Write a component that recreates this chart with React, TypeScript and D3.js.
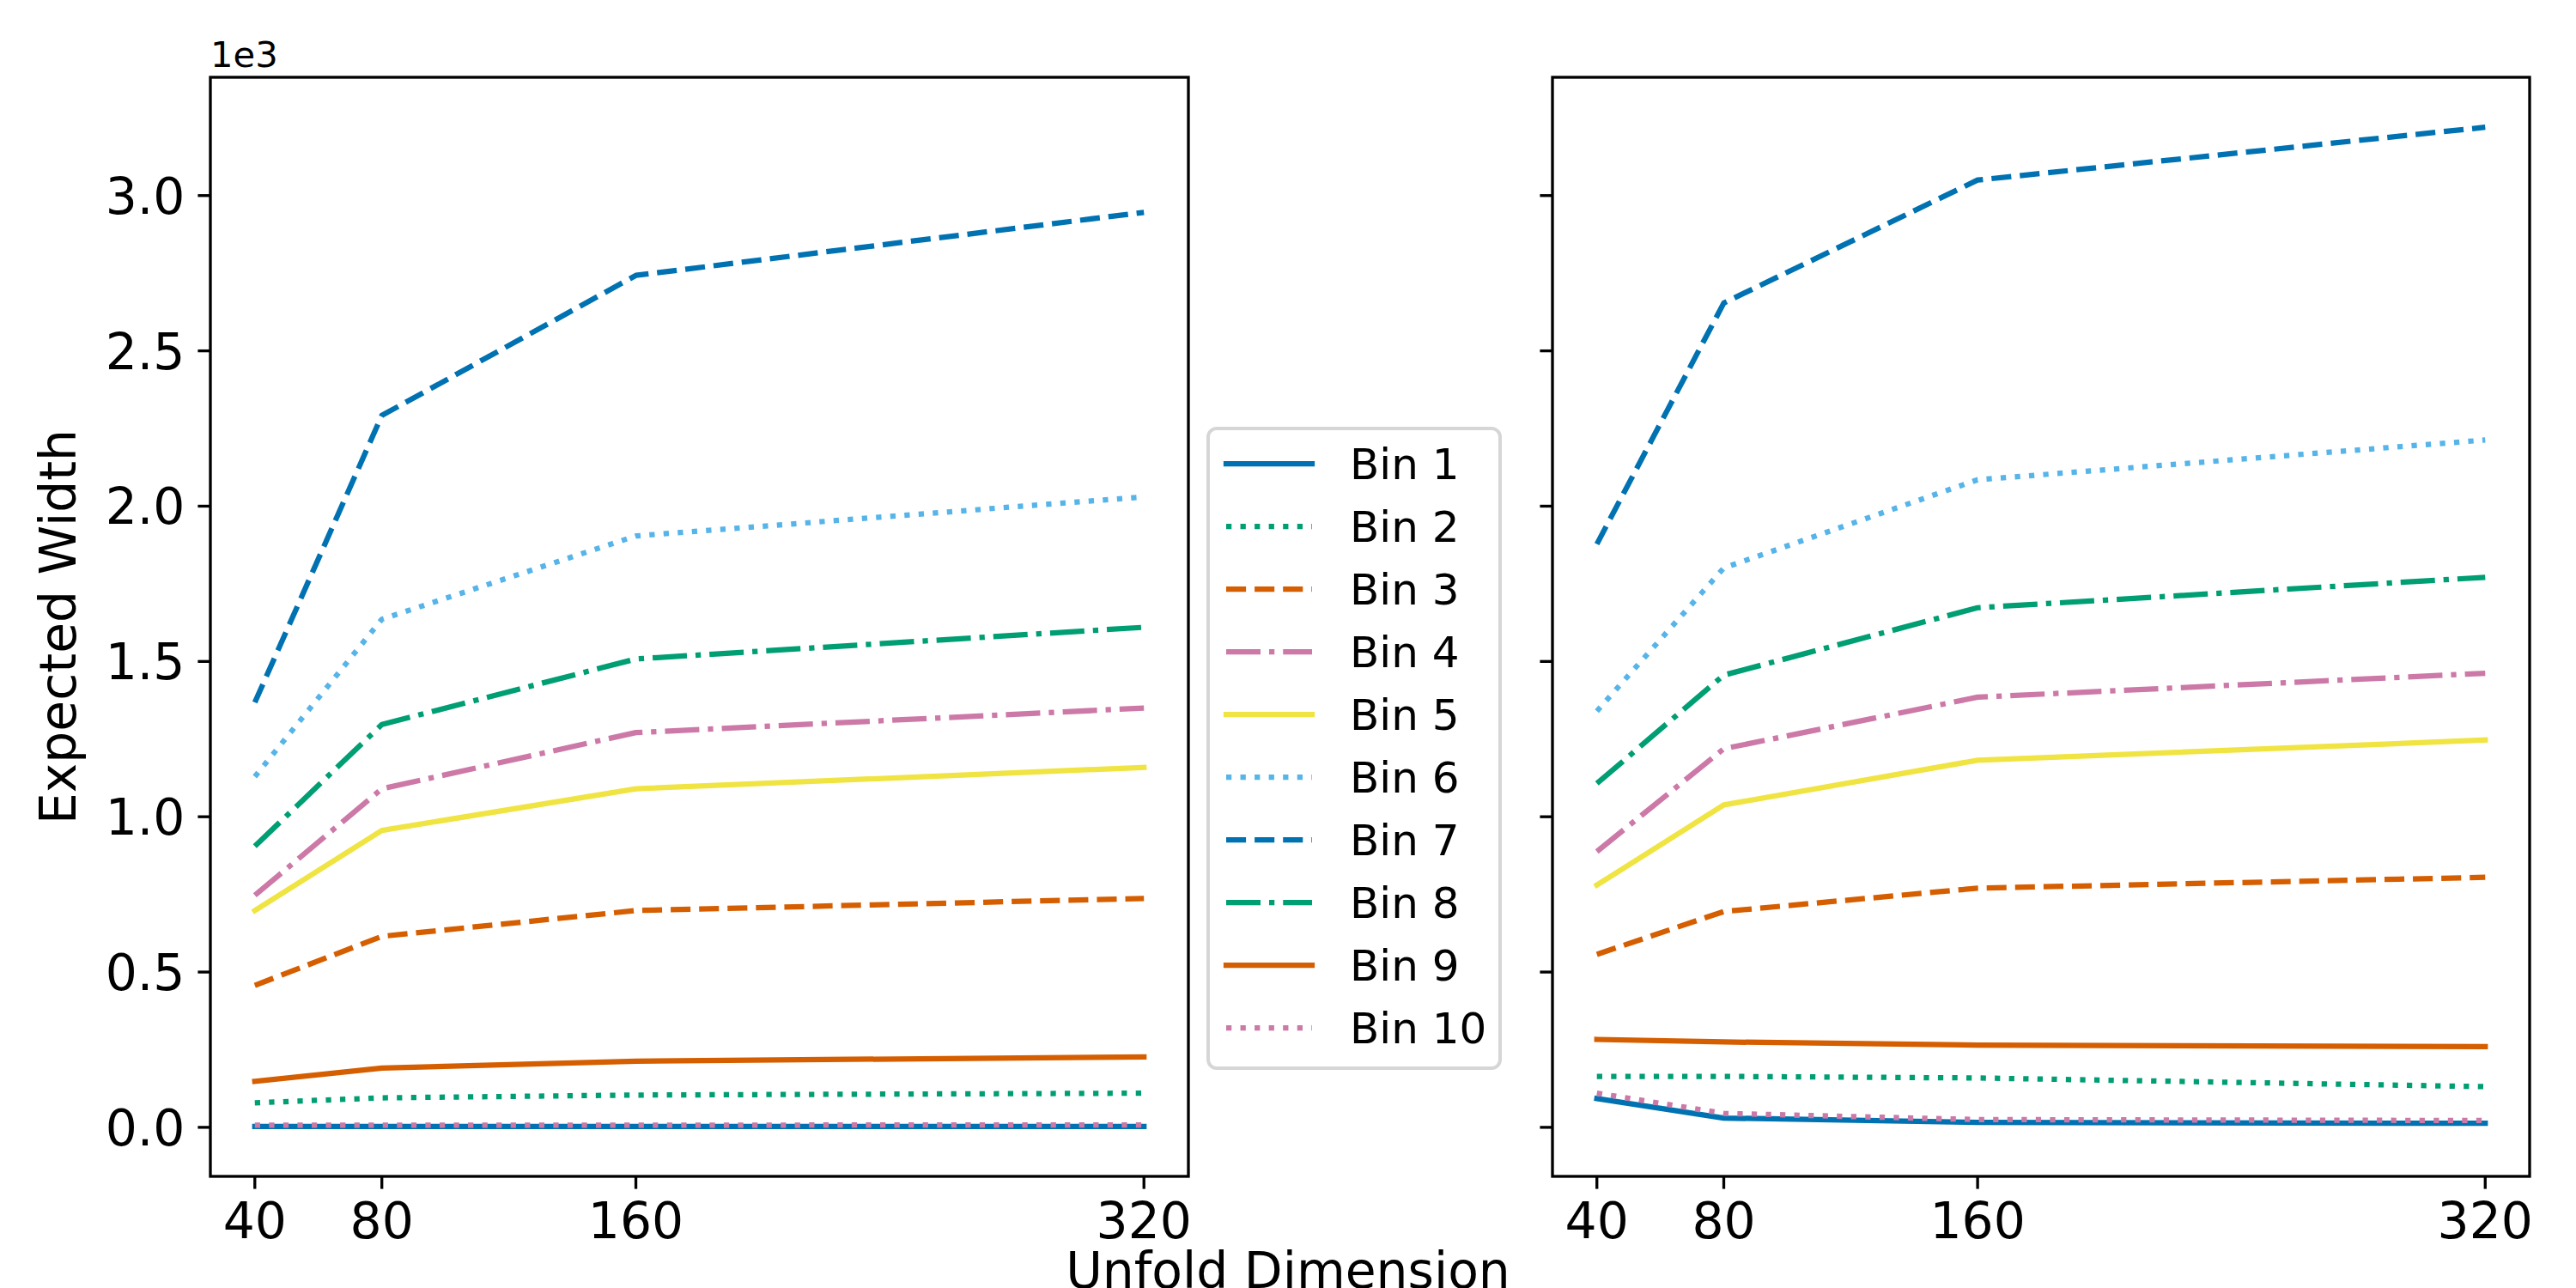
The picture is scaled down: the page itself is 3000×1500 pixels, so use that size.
import * as d3 from "d3";

const width = 3000;
const height = 1500;
const font = "'DejaVu Sans', sans-serif";

// unfold dimensions on the x axis
const dims = [40, 80, 160, 320];
const binNames = ["Bin 1", "Bin 2", "Bin 3", "Bin 4", "Bin 5", "Bin 6", "Bin 7", "Bin 8", "Bin 9", "Bin 10"];

// expected width per bin, left panel
const leftWidths = [
  [3, 3, 3, 3],
  [79, 95, 104, 110],
  [457, 615, 698, 737],
  [747, 1090, 1271, 1350],
  [698, 956, 1090, 1159],
  [1129, 1636, 1904, 2030],
  [1368, 2292, 2743, 2946],
  [905, 1297, 1508, 1610],
  [148, 191, 213, 227],
  [7, 7, 7, 8],
];

// expected width per bin, right panel
const rightWidths = [
  [93, 30, 16, 13],
  [164, 164, 159, 131],
  [557, 695, 770, 805],
  [888, 1219, 1385, 1462],
  [780, 1038, 1182, 1247],
  [1340, 1801, 2085, 2213],
  [1878, 2654, 3050, 3220],
  [1107, 1456, 1673, 1771],
  [283, 275, 265, 260],
  [110, 45, 25, 22],
];

const yTicks = [0, 500, 1000, 1500, 2000, 2500, 3000];

// okabe-ito colours, matplotlib style cycle
const colors = ["#0072B2", "#009E73", "#D55E00", "#CC79A7", "#F0E442", "#56B4E9"];
const dashes = [null, "6.25,10.3", "23.1,10", "40,10,6.25,10"];

const lw = 6.25;
const spineW = 3.33;
const tickLen = 14.6;
const tickFont = 58.33;

const top = 90;
const bottom = 1370;
const panels = [
  { left: 245, right: 1384, data: leftWidths, labels: true },
  { left: 1808, right: 2946, data: rightWidths, labels: false },
];

// shared y with matplotlib's 5% margins
const all = [...leftWidths.flat(), ...rightWidths.flat()];
const [ymin, ymax] = d3.extent(all) as [number, number];
const ypad = (ymax - ymin) * 0.05;
const y = d3.scaleLinear().domain([ymin - ypad, ymax + ypad]).range([bottom, top]);
const xpad = (d3.max(dims)! - d3.min(dims)!) * 0.05;

const styleOf = (i: number) => ({
  color: colors[i % colors.length],
  dash: dashes[i % dashes.length],
});

const Panel = ({ left, right, data, labels }: (typeof panels)[number]) => {
  const x = d3.scaleLinear().domain([d3.min(dims)! - xpad, d3.max(dims)! + xpad]).range([left, right]);
  const line = d3
    .line<number>()
    .x((_, i) => x(dims[i]))
    .y((d) => y(d));

  return (
    <g>
      {data.map((vals, i) => {
        const s = styleOf(i);
        return (
          <path
            key={i}
            d={line(vals) ?? ""}
            fill="none"
            stroke={s.color}
            strokeWidth={lw}
            strokeDasharray={s.dash ?? undefined}
            strokeLinecap={s.dash ? "butt" : "square"}
            strokeLinejoin="round"
          />
        );
      })}
      <rect x={left} y={top} width={right - left} height={bottom - top} fill="none" stroke="#000" strokeWidth={spineW} />
      {yTicks.map((t) => (
        <g key={t}>
          <line x1={left - tickLen} x2={left} y1={y(t)} y2={y(t)} stroke="#000" strokeWidth={spineW} />
          {labels && (
            <text x={left - tickLen - 15} y={y(t)} dy="0.36em" textAnchor="end" fontSize={tickFont} fontFamily={font}>
              {(t / 1000).toFixed(1)}
            </text>
          )}
        </g>
      ))}
      {dims.map((d) => (
        <g key={d}>
          <line x1={x(d)} x2={x(d)} y1={bottom} y2={bottom + tickLen} stroke="#000" strokeWidth={spineW} />
          <text x={x(d)} y={bottom + tickLen + 15 + 42.5} textAnchor="middle" fontSize={tickFont} fontFamily={font}>
            {d}
          </text>
        </g>
      ))}
    </g>
  );
};

const Legend = () => {
  const lx = 1407;
  const ly = 499;
  const rowY = (i: number) => 540 + i * 73;
  return (
    <g>
      <rect x={lx} y={ly} width={340} height={745} rx={10} ry={10} fill="#fff" fillOpacity={0.8} stroke="#d6d6d6" strokeWidth={4} />
      {binNames.map((name, i) => {
        const s = styleOf(i);
        return (
          <g key={name}>
            <line
              x1={1428}
              x2={1528}
              y1={rowY(i)}
              y2={rowY(i)}
              stroke={s.color}
              strokeWidth={lw}
              strokeDasharray={s.dash ?? undefined}
              strokeLinecap={s.dash ? "butt" : "square"}
            />
            <text x={1572} y={rowY(i)} dy="0.364em" fontSize={50} fontFamily={font}>
              {name}
            </text>
          </g>
        );
      })}
    </g>
  );
};

export default function App() {
  return (
    <div style={{ position: "absolute", left: 0, top: 0 }}>
      <svg width={width} height={height} viewBox={`0 0 ${width} ${height}`} style={{ display: "block", background: "#fff" }}>
        {panels.map((p, i) => (
          <Panel key={i} {...p} />
        ))}
        <Legend />
        <text x={245} y={78} fontSize={41.67} fontFamily={font}>
          1e3
        </text>
        <text
          transform={`translate(88, ${(top + bottom) / 2}) rotate(-90)`}
          textAnchor="middle"
          fontSize={58.33}
          fontFamily={font}
        >
          Expected Width
        </text>
        <text x={1500} y={1500} textAnchor="middle" fontSize={58.33} fontFamily={font}>
          Unfold Dimension
        </text>
      </svg>
    </div>
  );
}
